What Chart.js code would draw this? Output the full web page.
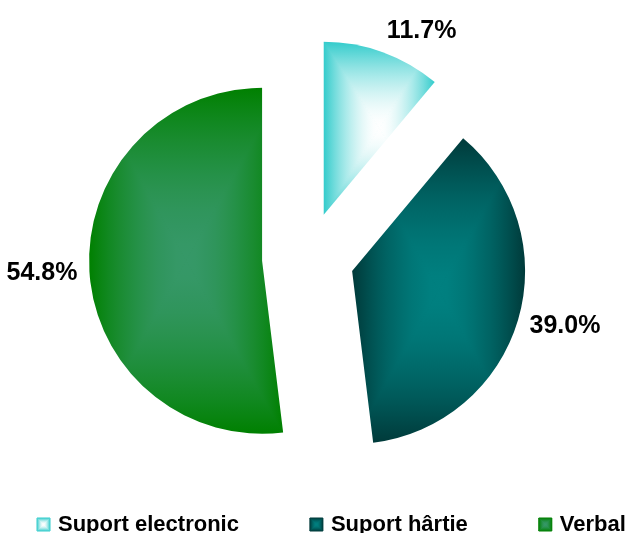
<!DOCTYPE html>
<html>
<head>
<meta charset="utf-8">
<script src="https://cdn.jsdelivr.net/npm/chart.js@4/dist/chart.umd.min.js"></script>
<style>
    html, body { margin: 0; padding: 0; background: #fff; }
    canvas { display: block; }
</style>
</head>
<body>
<canvas id="chart" width="626" height="533"></canvas>
<script>
// values (they add up to 105.5, the pie normalises them)
const categories = ['Suport electronic', 'Suport hârtie', 'Verbal'];
const shares = [11.7, 39.0, 54.8];

// fill: colour at the slice edge and the lighter spot in its middle
const edgeColors = ['#33cccc', '#003a3a', '#008000'];
const centerColors = ['#ffffff', '#008080', '#369868'];

const FONT = '"Liberation Sans", Arial, Helvetica, sans-serif';
const EXPLODE = 46; // px each slice is pulled away from the centre

function hexToRgb(hex) {
    const n = parseInt(hex.slice(1), 16);
    return [(n >> 16) & 255, (n >> 8) & 255, n & 255];
}

function mixColor(a, b, t) {
    const ca = hexToRgb(a), cb = hexToRgb(b);
    const c = ca.map((v, k) => Math.round(v + (cb[k] - v) * t));
    return `rgb(${c[0]},${c[1]},${c[2]})`;
}

// Excel style "from centre" gradient over a rectangle
function fillRectGradient(g, x0, y0, x1, y1, inner, outer) {
    const cx = (x0 + x1) / 2, cy = (y0 + y1) / 2;
    g.fillStyle = outer;
    g.fillRect(x0, y0, x1 - x0, y1 - y0);
    const sides = [
        [[x0, y0], [x1, y0], [cx, y0]],
        [[x1, y0], [x1, y1], [x1, cy]],
        [[x1, y1], [x0, y1], [cx, y1]],
        [[x0, y1], [x0, y0], [x0, cy]]
    ];
    sides.forEach(([a, b, edge]) => {
        const grad = g.createLinearGradient(cx, cy, edge[0], edge[1]);
        for (let s = 0; s <= 1.0001; s += 0.1) {
            grad.addColorStop(Math.min(s, 1), mixColor(inner, outer, Math.pow(s, 1.7)));
        }
        g.fillStyle = grad;
        g.strokeStyle = grad;
        g.lineWidth = 1;
        g.beginPath();
        g.moveTo(cx, cy);
        g.lineTo(a[0], a[1]);
        g.lineTo(b[0], b[1]);
        g.closePath();
        g.fill();
        g.stroke();
    });
}

// bounding box of a pie sector
function sectorBox(x, y, r, a0, a1) {
    const xs = [x, x + r * Math.cos(a0), x + r * Math.cos(a1)];
    const ys = [y, y + r * Math.sin(a0), y + r * Math.sin(a1)];
    for (let k = Math.ceil(a0 / (Math.PI / 2)); k * Math.PI / 2 <= a1; k++) {
        const a = k * Math.PI / 2;
        xs.push(x + r * Math.cos(a));
        ys.push(y + r * Math.sin(a));
    }
    return [Math.min(...xs), Math.min(...ys), Math.max(...xs), Math.max(...ys)];
}

// pull every slice out along its middle angle and give it its gradient
const explodePlugin = {
    id: 'explode',
    afterDatasetsUpdate(chart) {
        const meta = chart.getDatasetMeta(0);
        meta.data.forEach((arc, i) => {
            const mid = (arc.startAngle + arc.endAngle) / 2;
            arc.x += Math.cos(mid) * EXPLODE;
            arc.y += Math.sin(mid) * EXPLODE;

            const box = sectorBox(arc.x, arc.y, arc.outerRadius, arc.startAngle, arc.endAngle);
            const off = document.createElement('canvas');
            off.width = chart.width;
            off.height = chart.height;
            fillRectGradient(off.getContext('2d'), box[0], box[1], box[2], box[3], centerColors[i], edgeColors[i]);
            arc.options.backgroundColor = chart.ctx.createPattern(off, 'no-repeat');
        });
    }
};

// percentage labels outside the slices
const valueLabels = {
    id: 'valueLabels',
    afterDatasetsDraw(chart) {
        const ctx = chart.ctx;
        const meta = chart.getDatasetMeta(0);
        ctx.save();
        ctx.font = 'bold 25px ' + FONT;
        ctx.fillStyle = '#000';
        ctx.textAlign = 'center';
        ctx.textBaseline = 'middle';
        meta.data.forEach((arc, i) => {
            const mid = (arc.startAngle + arc.endAngle) / 2;
            const dist = arc.outerRadius + 12;
            const ax = arc.x + Math.cos(mid) * dist;
            const ay = arc.y + Math.sin(mid) * dist;
            const text = shares[i].toFixed(1) + '%';
            const w = ctx.measureText(text).width;
            const cos = Math.cos(mid);
            const dx = Math.abs(cos) < 0.1 ? 0 : Math.sign(cos) * w / 2;
            ctx.fillText(text, ax + dx, ay + Math.sin(mid) * 10);
        });
        ctx.restore();
    }
};

// legend along the bottom edge
const bottomLegend = {
    id: 'bottomLegend',
    afterDraw(chart) {
        const ctx = chart.ctx;
        const box = 13;
        const baseline = chart.height - 2;
        let x = 37;
        ctx.save();
        ctx.font = 'bold 22px ' + FONT;
        ctx.textBaseline = 'alphabetic';
        categories.forEach((label, i) => {
            const top = baseline - 13;
            fillRectGradient(ctx, x, top, x + box, top + box, centerColors[i], edgeColors[i]);
            ctx.fillStyle = '#000';
            ctx.fillText(label, x + box + 8, baseline);
            x += box + 8 + ctx.measureText(label).width + 71;
        });
        ctx.restore();
    }
};

new Chart(document.getElementById('chart'), {
    type: 'pie',
    data: {
        labels: categories,
        datasets: [{
            data: shares,
            backgroundColor: edgeColors,
            borderWidth: 0,
            radius: 173
        }]
    },
    options: {
        responsive: false,
        devicePixelRatio: 1,
        animation: false,
        events: [],
        layout: {
            padding: { top: 20, bottom: 37, left: 20, right: 30 }
        },
        plugins: {
            legend: { display: false },
            tooltip: { enabled: false }
        }
    },
    plugins: [explodePlugin, valueLabels, bottomLegend]
});
</script>
</body>
</html>
